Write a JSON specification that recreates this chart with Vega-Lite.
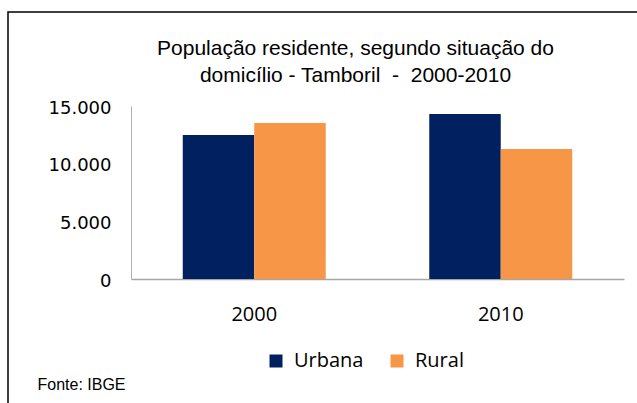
{
  "$schema": "https://vega.github.io/schema/vega-lite/v6.json",
  "autosize": {"type": "none"},
  "padding": {"left": 8, "top": 12, "right": 0, "bottom": 0},
  "width": 629,
  "height": 391,
  "background": "white",
  "title": {
    "text": ["População residente, segundo situação do", "domicílio - Tamboril \u00a0- \u00a02000-2010"],
    "font": "Liberation Sans",
    "fontSize": 21,
    "fontWeight": "normal",
    "color": "#000000",
    "lineHeight": 27,
    "anchor": "middle",
    "frame": "group",
    "orient": "top",
    "offset": -74,
    "dx": 33
  },
  "data": {
    "values": [
      {"ano": "2000", "situacao": "Urbana", "populacao": 12490},
      {"ano": "2000", "situacao": "Rural", "populacao": 13530},
      {"ano": "2010", "situacao": "Urbana", "populacao": 14300},
      {"ano": "2010", "situacao": "Rural", "populacao": 11270}
    ]
  },
  "mark": {"type": "bar"},
  "encoding": {
    "x": {
      "field": "ano",
      "type": "nominal",
      "scale": {"range": [123, 616], "paddingInner": 0.42, "paddingOuter": 0.21},
      "axis": {
        "title": null,
        "labelAngle": 0,
        "labelFont": "Open Sans",
        "labelFontSize": 20,
        "labelColor": "#000000",
        "labelBaseline": "alphabetic",
        "labelPadding": 41,
        "offset": -124,
        "domainColor": "#a6a6a6",
        "domainWidth": 1.5,
        "ticks": false,
        "tickSize": 0
      }
    },
    "xOffset": {"field": "situacao", "type": "nominal", "sort": ["Urbana", "Rural"]},
    "y": {
      "field": "populacao",
      "type": "quantitative",
      "scale": {"domain": [0, 15000], "range": [267, 94], "nice": false},
      "axis": {
        "values": [0, 5000, 10000, 15000],
        "labelExpr": "replace(format(datum.value, ','), ',', '.')",
        "labelFont": "DejaVu Sans",
        "labelFontSize": 18,
        "labelColor": "#000000",
        "labelPadding": 20,
        "labelOffset": 2,
        "offset": -123,
        "domainColor": "#b3b3b3",
        "domainWidth": 1,
        "ticks": false,
        "tickSize": 0,
        "grid": false,
        "title": "Fonte: IBGE",
        "titleAngle": 0,
        "titleX": -94,
        "titleY": 377,
        "titleAlign": "left",
        "titleBaseline": "alphabetic",
        "titleFont": "Liberation Sans",
        "titleFontSize": 16,
        "titleFontWeight": "normal",
        "titleColor": "#000000"
      }
    },
    "color": {
      "field": "situacao",
      "type": "nominal",
      "sort": ["Urbana", "Rural"],
      "scale": {"domain": ["Urbana", "Rural"], "range": ["#002060", "#F79646"]},
      "legend": {
        "title": null,
        "orient": "none",
        "direction": "horizontal",
        "legendX": 258,
        "legendY": 339,
        "padding": 0,
        "symbolType": "square",
        "symbolSize": 169,
        "symbolStrokeWidth": 0,
        "symbolOpacity": 1,
        "labelFont": "Open Sans",
        "labelFontSize": 20,
        "labelColor": "#000000",
        "labelOffset": 8,
        "columnPadding": 23
      }
    }
  },
  "config": {
    "view": {"stroke": "#000000", "strokeWidth": 1.5, "strokeDash": [629, 1020, 391]},
    "axis": {"grid": false}
  }
}
